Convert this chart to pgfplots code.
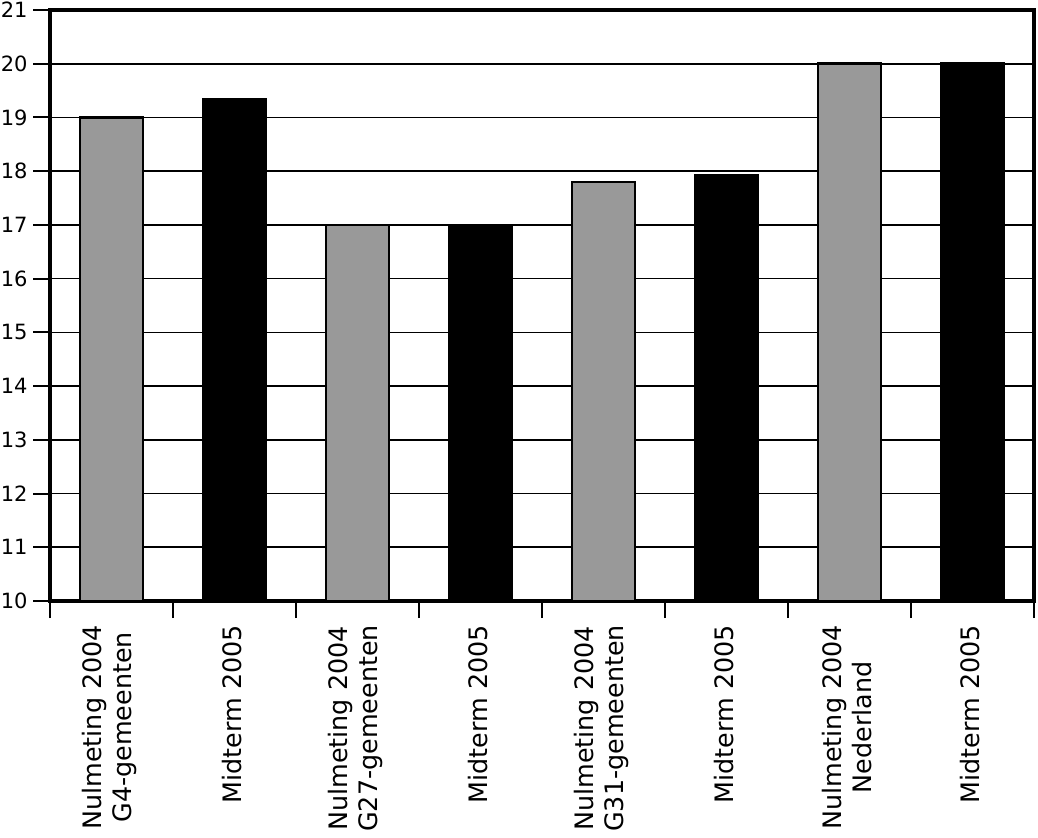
\documentclass[border=0pt]{standalone}
\usepackage{fontspec}
\setmainfont{DejaVu Sans}
\usepackage{pgfplots}
\pgfplotsset{compat=1.18}
\definecolor{bargray}{RGB}{153,153,153}
\pgfplotsset{
  layers/mylayers/.define layer set={axis background,axis grid,pre main,main,axis ticks,axis lines,axis tick labels,axis descriptions,axis foreground}{},
}
\begin{document}
\begin{tikzpicture}
\begin{axis}[
  name=ax,
  set layers=mylayers,
  scale only axis,
  width=492pt, height=295.5pt,
  xmin=-0.5, xmax=7.5, ymin=10, ymax=21,
  ytick={10,...,21},
  ymajorgrids,
  grid style={black, line width=0.8pt},
  axis line style={line width=1.6pt},
  xtick={0,...,7},
  xticklabels={{Nulmeting 2004\\G4-gemeenten},{Midterm 2005},{Nulmeting 2004\\G27-gemeenten},{Midterm 2005},{Nulmeting 2004\\G31-gemeenten},{Midterm 2005},{Nulmeting 2004\\Nederland},{Midterm 2005}},
  minor xtick={-0.5,0.5,...,7.5},
  major x tick style={draw=none},
  xtick pos=bottom, ytick pos=left,
  tick style={black, line width=1pt},
  tick align=outside,
  major tick length=8.5pt, minor tick length=8.5pt,
  xticklabel style={rotate=90, anchor=east, align=center, font=\fontsize{12.7}{15}\selectfont, yshift=1pt},
  yticklabel style={font=\fontsize{10.5}{12.5}\selectfont, inner sep=2.5pt},
  /pgf/number format/assume math mode=true,
  ybar, bar width=31.5pt,
]
\addplot[fill=bargray, draw=black, line width=1.4pt, bar shift=0pt] coordinates {(0,19) (2,17) (4,17.8) (6,20)};
\addplot[fill=black, draw=black, line width=1.4pt, bar shift=0pt] coordinates {(1,19.33) (3,17) (5,17.93) (7,20)};
\end{axis}
\pgfresetboundingbox
\path ([shift={(-25pt,-118pt)}]ax.south west) rectangle ([shift={(2pt,5pt)}]ax.north east);
\end{tikzpicture}
\end{document}
